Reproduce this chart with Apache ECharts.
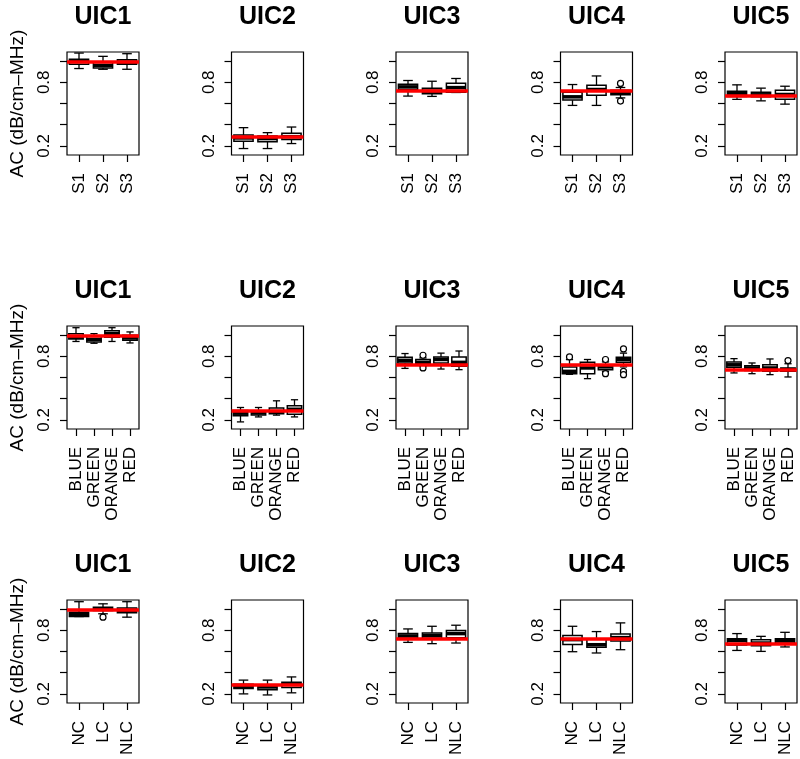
<!DOCTYPE html>
<html>
<head>
<meta charset="utf-8">
<script src="https://cdn.jsdelivr.net/npm/echarts@6/dist/echarts.min.js"></script>
<style>html,body{margin:0;padding:0;background:#fff}#c{width:800px;height:759px}</style>
</head>
<body>
<div id="c"></div>
<script>
// ---------- data ----------
const panelTitles = ['UIC1', 'UIC2', 'UIC3', 'UIC4', 'UIC5'];
const groupsSetting = ['S1', 'S2', 'S3'];
const groupsColor = ['BLUE', 'GREEN', 'ORANGE', 'RED'];
const groupsCorrection = ['NC', 'LC', 'NLC'];
const yTickValues = [0.2, 0.4, 0.6, 0.8, 1.0];
const yLabelValues = [0.2, 0.8];
const yTitle = 'AC (dB/cm\u2013MHz)';
const referenceAC = [0.99, 0.29, 0.72, 0.72, 0.665];

// box stats: [lowerWhisker, Q1, median, Q3, upperWhisker]
const boxesSetting = [
  [[0.93, 0.97, 0.998, 1.017, 1.076], [0.923, 0.935, 0.96, 0.99, 1.045], [0.923, 0.97, 0.99, 1.014, 1.07]],
  [[0.175, 0.244, 0.275, 0.303, 0.372], [0.175, 0.24, 0.269, 0.294, 0.325], [0.222, 0.26, 0.287, 0.319, 0.378]],
  [[0.67, 0.732, 0.757, 0.782, 0.817], [0.667, 0.691, 0.716, 0.745, 0.81], [0.704, 0.707, 0.75, 0.79, 0.836]],
  [[0.582, 0.632, 0.663, 0.707, 0.779], [0.582, 0.679, 0.732, 0.773, 0.86], [0.653, 0.682, 0.698, 0.726, 0.751]],
  [[0.639, 0.667, 0.695, 0.716, 0.776], [0.625, 0.663, 0.682, 0.707, 0.745], [0.594, 0.641, 0.685, 0.726, 0.763]]
];
const boxesColor = [
  [[0.94, 0.963, 0.98, 1.014, 1.07], [0.923, 0.935, 0.96, 0.99, 1.014], [0.94, 0.98, 1.014, 1.04, 1.07], [0.926, 0.951, 0.973, 0.998, 1.03]],
  [[0.181, 0.238, 0.263, 0.288, 0.317], [0.228, 0.247, 0.266, 0.285, 0.317], [0.245, 0.257, 0.279, 0.311, 0.38], [0.228, 0.254, 0.30, 0.333, 0.39]],
  [[0.686, 0.737, 0.762, 0.79, 0.826], [0.705, 0.72, 0.743, 0.77, 0.785], [0.68, 0.737, 0.77, 0.794, 0.83], [0.674, 0.705, 0.743, 0.794, 0.85]],
  [[0.63, 0.636, 0.658, 0.70, 0.769], [0.589, 0.636, 0.69, 0.743, 0.77], [0.658, 0.674, 0.70, 0.72, 0.747], [0.70, 0.743, 0.77, 0.79, 0.83]],
  [[0.643, 0.696, 0.72, 0.747, 0.778], [0.636, 0.667, 0.69, 0.712, 0.737], [0.627, 0.658, 0.69, 0.72, 0.775], [0.605, 0.658, 0.674, 0.69, 0.73]]
];
const boxesCorrection = [
  [[0.93, 0.93, 0.95, 0.97, 1.07], [0.956, 0.987, 1.0, 1.017, 1.05], [0.924, 0.965, 0.987, 1.01, 1.07]],
  [[0.2, 0.25, 0.27, 0.29, 0.33], [0.19, 0.24, 0.265, 0.285, 0.33], [0.21, 0.26, 0.29, 0.31, 0.36]],
  [[0.686, 0.724, 0.747, 0.769, 0.813], [0.674, 0.724, 0.75, 0.775, 0.838], [0.68, 0.73, 0.769, 0.797, 0.848]],
  [[0.598, 0.667, 0.712, 0.75, 0.838], [0.586, 0.639, 0.664, 0.718, 0.788], [0.617, 0.70, 0.731, 0.766, 0.87]],
  [[0.61, 0.662, 0.703, 0.72, 0.769], [0.601, 0.655, 0.68, 0.712, 0.743], [0.643, 0.68, 0.703, 0.72, 0.781]]
];
// outliers: [groupIndex, value]
const outliersSetting = [[], [], [], [[2, 0.789], [2, 0.623]], []];
const outliersColor = [[], [], [[1, 0.81], [1, 0.69]], [[0, 0.794], [2, 0.77], [2, 0.636], [3, 0.87], [3, 0.658], [3, 0.627]], [[3, 0.76]]];
const outliersCorrection = [[[1, 0.924]], [], [], [], []];

// ---------- layout ----------
const Y_MIN = 0.114, Y_MAX = 1.086;
const LEFT0 = 67, COL_STEP = 164.5, GRID_W = 72;
const TOP0 = 52, ROW_STEP = 274, GRID_H = 103;
const FONT = 'Liberation Sans, Arial, Helvetica, sans-serif';

const rows = [
  {cats: groupsSetting, boxes: boxesSetting, outs: outliersSetting},
  {cats: groupsColor, boxes: boxesColor, outs: outliersColor},
  {cats: groupsCorrection, boxes: boxesCorrection, outs: outliersCorrection}
];

function renderBox(params, api) {
  const i = api.value(0);
  const cx = api.coord([i, Y_MIN])[0];
  const band = api.size([1, 0])[0];
  const half = band * 0.4, staple = band * 0.2;
  const y = k => api.coord([i, api.value(k)])[1];
  const yLo = y(1), yQ1 = y(2), yMed = y(3), yQ3 = y(4), yHi = y(5);
  const ls = {stroke: '#000', lineWidth: 1.3};
  return {
    type: 'group',
    children: [
      {type: 'line', shape: {x1: cx, y1: yHi, x2: cx, y2: yQ3}, style: ls},
      {type: 'line', shape: {x1: cx, y1: yQ1, x2: cx, y2: yLo}, style: ls},
      {type: 'line', shape: {x1: cx - staple, y1: yHi, x2: cx + staple, y2: yHi}, style: ls},
      {type: 'line', shape: {x1: cx - staple, y1: yLo, x2: cx + staple, y2: yLo}, style: ls},
      {type: 'rect', shape: {x: cx - half, y: yQ3, width: 2 * half, height: yQ1 - yQ3}, style: {fill: '#fff', stroke: '#000', lineWidth: 1.5}},
      {type: 'line', shape: {x1: cx - half, y1: yMed, x2: cx + half, y2: yMed}, style: {stroke: '#000', lineWidth: 3.5}}
    ]
  };
}

const grids = [], xAxes = [], yAxes = [], series = [], titles = [];
rows.forEach((row, r) => {
  for (let c = 0; c < 5; c++) {
    const idx = r * 5 + c;
    const left = LEFT0 + COL_STEP * c;
    const top = TOP0 + ROW_STEP * r;
    grids.push({left: left, top: top, width: GRID_W, height: GRID_H, show: true,
      borderColor: '#000', borderWidth: 1.2, backgroundColor: 'transparent', containLabel: false});
    titles.push({text: panelTitles[c], left: left + GRID_W / 2, top: top - 47, textAlign: 'center', padding: 0,
      textStyle: {fontFamily: FONT, fontSize: 25, fontWeight: 'bold', color: '#000'}});
    xAxes.push({type: 'category', gridIndex: idx, data: row.cats, boundaryGap: true,
      axisLine: {show: false}, splitLine: {show: false},
      axisTick: {show: true, alignWithLabel: true, length: 7, inside: false, lineStyle: {color: '#000', width: 1.2}},
      axisLabel: {show: true, rotate: 90, interval: 0, margin: 18, fontFamily: FONT, fontSize: 17, color: '#000'}});
    yAxes.push({type: 'value', gridIndex: idx, min: Y_MIN, max: Y_MAX,
      name: c === 0 ? yTitle : '', nameLocation: 'middle', nameGap: 40,
      nameTextStyle: {fontFamily: FONT, fontSize: 19, color: '#000'},
      axisLine: {show: false}, splitLine: {show: false},
      axisTick: {show: true, length: 7, inside: false, customValues: yTickValues, lineStyle: {color: '#000', width: 1.2}},
      axisLabel: {show: true, rotate: 90, margin: 14, customValues: yLabelValues, fontFamily: FONT, fontSize: 17, color: '#000',
        formatter: v => v.toFixed(1)}});
    series.push({type: 'custom', xAxisIndex: idx, yAxisIndex: idx, z: 2, silent: true,
      renderItem: renderBox, encode: {x: 0, y: [1, 2, 3, 4, 5]},
      data: row.boxes[c].map((b, i) => [i].concat(b))});
    series.push({type: 'scatter', xAxisIndex: idx, yAxisIndex: idx, z: 3, silent: true,
      symbol: 'circle', symbolSize: 6,
      itemStyle: {color: '#fff', borderColor: '#000', borderWidth: 1.2, opacity: 1},
      data: row.outs[c]});
    series.push({type: 'line', xAxisIndex: idx, yAxisIndex: idx, z: 5, silent: true,
      data: [], showSymbol: false,
      markLine: {silent: true, symbol: 'none', animation: false, label: {show: false},
        lineStyle: {color: '#ff0000', width: 3.5, type: 'solid'},
        emphasis: {disabled: true},
        data: [{yAxis: referenceAC[c]}]}});
  }
});

const chart = echarts.init(document.getElementById('c'), null, {renderer: 'canvas'});
chart.setOption({
  backgroundColor: '#fff',
  animation: false,
  title: titles,
  grid: grids,
  xAxis: xAxes,
  yAxis: yAxes,
  series: series
});
</script>
</body>
</html>
